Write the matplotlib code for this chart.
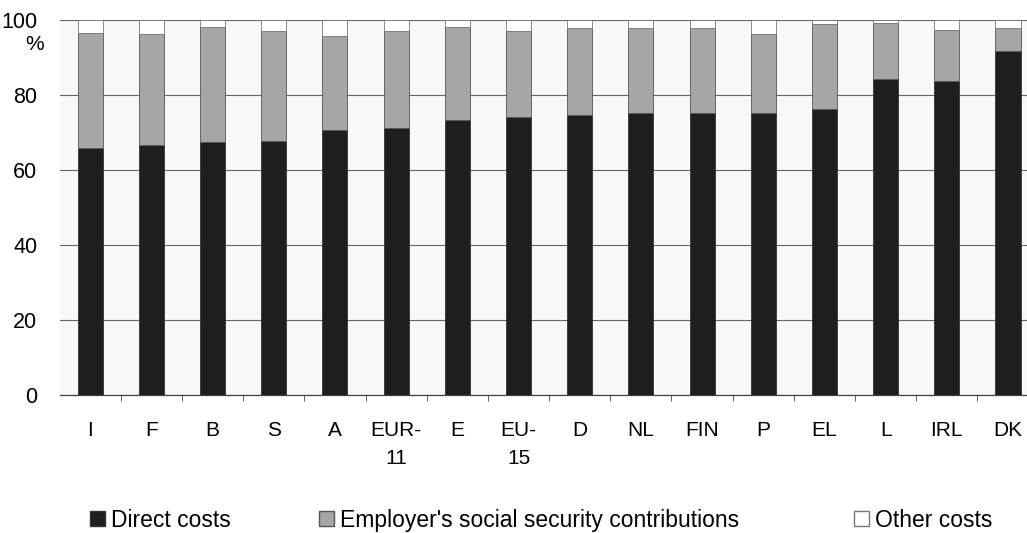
import numpy as np
import matplotlib.pyplot as plt
import matplotlib.patches as patches

plt.rcParams['font.family'] = ['Liberation Sans', 'DejaVu Sans']

# countries, sorted by share of direct costs
countries = ['I', 'F', 'B', 'S', 'A', 'EUR-\n11', 'E', 'EU-\n15', 'D', 'NL',
             'FIN', 'P', 'EL', 'L', 'IRL', 'DK']
direct = [65.8, 66.8, 67.4, 67.9, 70.7, 71.2, 73.3, 74.2, 74.7, 75.3,
          75.3, 75.3, 76.3, 84.3, 83.7, 91.9]
social = [30.8, 29.4, 30.8, 29.3, 25.0, 25.9, 24.9, 23.0, 23.1, 22.5,
          22.6, 21.1, 22.8, 15.0, 13.6, 5.9]
other = [3.4, 3.8, 1.8, 2.8, 4.3, 2.9, 1.8, 2.8, 2.2, 2.2,
         2.1, 3.6, 0.9, 0.7, 2.7, 2.2]
yticks = [0, 20, 40, 60, 80, 100]

fig = plt.figure(figsize=(10.27, 5.33), dpi=100)
ax = fig.add_axes([0.058, 0.259, 0.942, 0.703])
ax.set_facecolor('#f8f8f8')

x = np.arange(len(countries))
w = 0.41
direct = np.array(direct)
social = np.array(social)
other = np.array(other)

black = '#1e1e1e'
grey = '#a6a6a6'

ax.bar(x, direct, w, color=black, edgecolor='#333333', linewidth=0.6, zorder=3)
ax.bar(x, social, w, bottom=direct, color=grey, edgecolor='#555555', linewidth=0.6, zorder=3)
ax.bar(x, other, w, bottom=direct + social, color='white', edgecolor='#777777', linewidth=0.6, zorder=3)

ax.set_ylim(0, 100)
ax.set_xlim(-0.5, 15.31)
ax.set_yticks(yticks)
ax.set_yticklabels([str(t) for t in yticks], fontsize=15.5)
ax.yaxis.grid(True, color='#666666', linewidth=0.8, zorder=1)
ax.tick_params(axis='y', length=0, pad=16)
# the "%" unit sits just under the 100 label
ax.text(-0.0165, 93.6, '%', transform=ax.get_yaxis_transform(), ha='right', va='center', fontsize=15)

ax.set_xticks(x)
ax.set_xticklabels(countries, fontsize=15, linespacing=1.6, va='top')
ax.set_xticks(x[:-1] + 0.5, minor=True)
ax.tick_params(axis='x', which='major', length=0, pad=19)
ax.tick_params(axis='x', which='minor', length=4, color='#444444')

for s in ['left', 'right', 'top']:
    ax.spines[s].set_visible(False)
ax.spines['bottom'].set_color('#444444')
ax.spines['bottom'].set_linewidth(0.9)

# legend: three separate entries spread along the bottom
handles = [patches.Patch(facecolor=black, edgecolor='#333333'),
           patches.Patch(facecolor=grey, edgecolor='#555555'),
           patches.Patch(facecolor='white', edgecolor='#777777')]
labels = ['Direct costs', "Employer's social security contributions", 'Other costs']
lx = [0.088, 0.311, 0.832]
for h, l, px in zip(handles, labels, lx):
    fig.legend([h], [l], loc='center left', bbox_to_anchor=(px, 0.024),
               frameon=False, fontsize=16.5, handlelength=0.65, handleheight=0.65,
               handletextpad=0.25, borderpad=0, borderaxespad=0)

fig.savefig('out.png', dpi=100)
